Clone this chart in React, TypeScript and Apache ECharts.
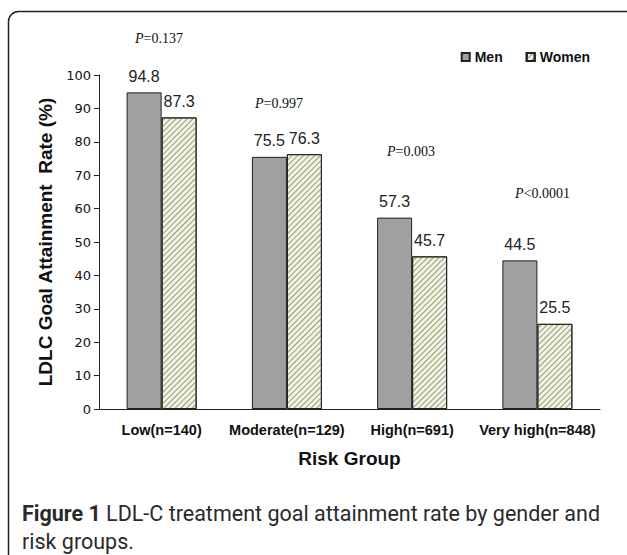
import React, { useEffect, useRef } from "react";
import * as echarts from "echarts";

const categories = ["Low(n=140)", "Moderate(n=129)", "High(n=691)", "Very high(n=848)"];
const menValues = [94.8, 75.5, 57.3, 44.5];
const womenValues = [87.3, 76.3, 45.7, 25.5];
const pLabels = ["=0.137", "=0.997", "=0.003", "<0.0001"];
const yTicks = [0, 10, 20, 30, 40, 50, 60, 70, 80, 90, 100];

export default function App() {
  const ref = useRef<HTMLDivElement>(null);
  useEffect(() => {
    if (!ref.current) return;
    const chart = echarts.init(ref.current, null, { renderer: "svg" });
    const pPos = [
      [135, 38],
      [255, 103],
      [387, 151],
      [515, 193],
    ];
    const hatch = {
      symbol: "rect",
      symbolSize: 1,
      dashArrayX: [1, 0],
      dashArrayY: [1, 3],
      rotation: -Math.PI / 4,
      color: "#939c7a",
    };
    chart.setOption({
      animation: false,
      backgroundColor: "#ffffff",
      grid: { left: 99, right: 27, top: 75, bottom: 146 },
      legend: {
        right: 32,
        top: 45,
        icon: "rect",
        itemWidth: 8,
        itemHeight: 8,
        itemGap: 23,
        textStyle: { fontFamily: "Liberation Sans, Arial", fontWeight: "bold", fontSize: 14, color: "#111" },
        data: ["Men", "Women"],
      },
      xAxis: {
        type: "category",
        data: categories,
        name: "Risk Group",
        nameLocation: "middle",
        nameGap: 40,
        nameTextStyle: { fontFamily: "Liberation Sans, Arial", fontWeight: "bold", fontSize: 19, color: "#111" },
        axisLine: { lineStyle: { color: "#222", width: 1 } },
        axisTick: { inside: true, length: 4, lineStyle: { color: "#222" } },
        axisLabel: {
          interval: 0,
          fontFamily: "Liberation Sans, Arial",
          fontWeight: "bold",
          fontSize: 14.5,
          color: "#111",
          margin: 13,
        },
      },
      yAxis: {
        type: "value",
        min: yTicks[0],
        max: yTicks[yTicks.length - 1],
        interval: 10,
        name: "LDLC Goal Attainment  Rate (%)",
        nameLocation: "middle",
        nameGap: 35,
        nameTextStyle: { fontFamily: "Liberation Sans, Arial", fontWeight: "bold", fontSize: 19, color: "#111" },
        axisLine: { show: true, lineStyle: { color: "#222", width: 1 } },
        axisTick: { show: true, length: 5, lineStyle: { color: "#222" } },
        axisLabel: { fontFamily: "DejaVu Sans", fontSize: 13, color: "#111", margin: 8 },
        splitLine: { show: false },
      },
      series: [
        {
          name: "Men",
          type: "bar",
          data: menValues,
          barWidth: 35,
          barGap: "0%",
          itemStyle: { color: "#a0a0a0", borderColor: "#222", borderWidth: 1 },
          label: {
            show: true,
            position: "top",
            distance: 8,
            fontFamily: "Liberation Sans, Arial",
            fontSize: 16,
            color: "#222",
          },
        },
        {
          name: "Women",
          type: "bar",
          data: womenValues,
          barWidth: 35,
          barGap: "0%",
          itemStyle: { color: "#f1f4e2", borderColor: "#222", borderWidth: 1, decal: hatch },
          label: {
            show: true,
            position: "top",
            distance: 8,
            fontFamily: "Liberation Sans, Arial",
            fontSize: 16,
            color: "#222",
          },
        },
      ],
      graphic: [
        {
          type: "rect",
          shape: { x: 8.5, y: 11.5, width: 700, height: 700, r: 10 },
          style: { fill: "none", stroke: "#222", lineWidth: 1.5 },
          silent: true,
        },
        ...pLabels.map((t, i) => ({
          type: "text",
          x: pPos[i][0],
          y: pPos[i][1],
          style: {
            text: "{i|P}" + t,
            rich: {
              i: { fontFamily: "Liberation Serif", fontStyle: "italic", fontSize: 14, fill: "#111" },
            },
            fontFamily: "Liberation Serif",
            fontSize: 14,
            fill: "#111",
            verticalAlign: "middle",
          },
        })),
        {
          type: "text",
          x: 22,
          y: 527,
          style: {
            text: "{b|Figure 1} LDL-C treatment goal attainment rate by gender and\nrisk groups.",
            rich: {
              b: { fontFamily: "Roboto", fontWeight: "bold", fontSize: 21.5, fill: "#2a2a2a" },
            },
            fontFamily: "Roboto",
            fontSize: 21.5,
            lineHeight: 28,
            fill: "#2a2a2a",
            verticalAlign: "middle",
          },
        },
      ],
    });
    return () => chart.dispose();
  }, []);
  return (
    <div
      ref={ref}
      style={{ position: "fixed", left: 0, top: 0, width: 627, height: 555 }}
    />
  );
}
